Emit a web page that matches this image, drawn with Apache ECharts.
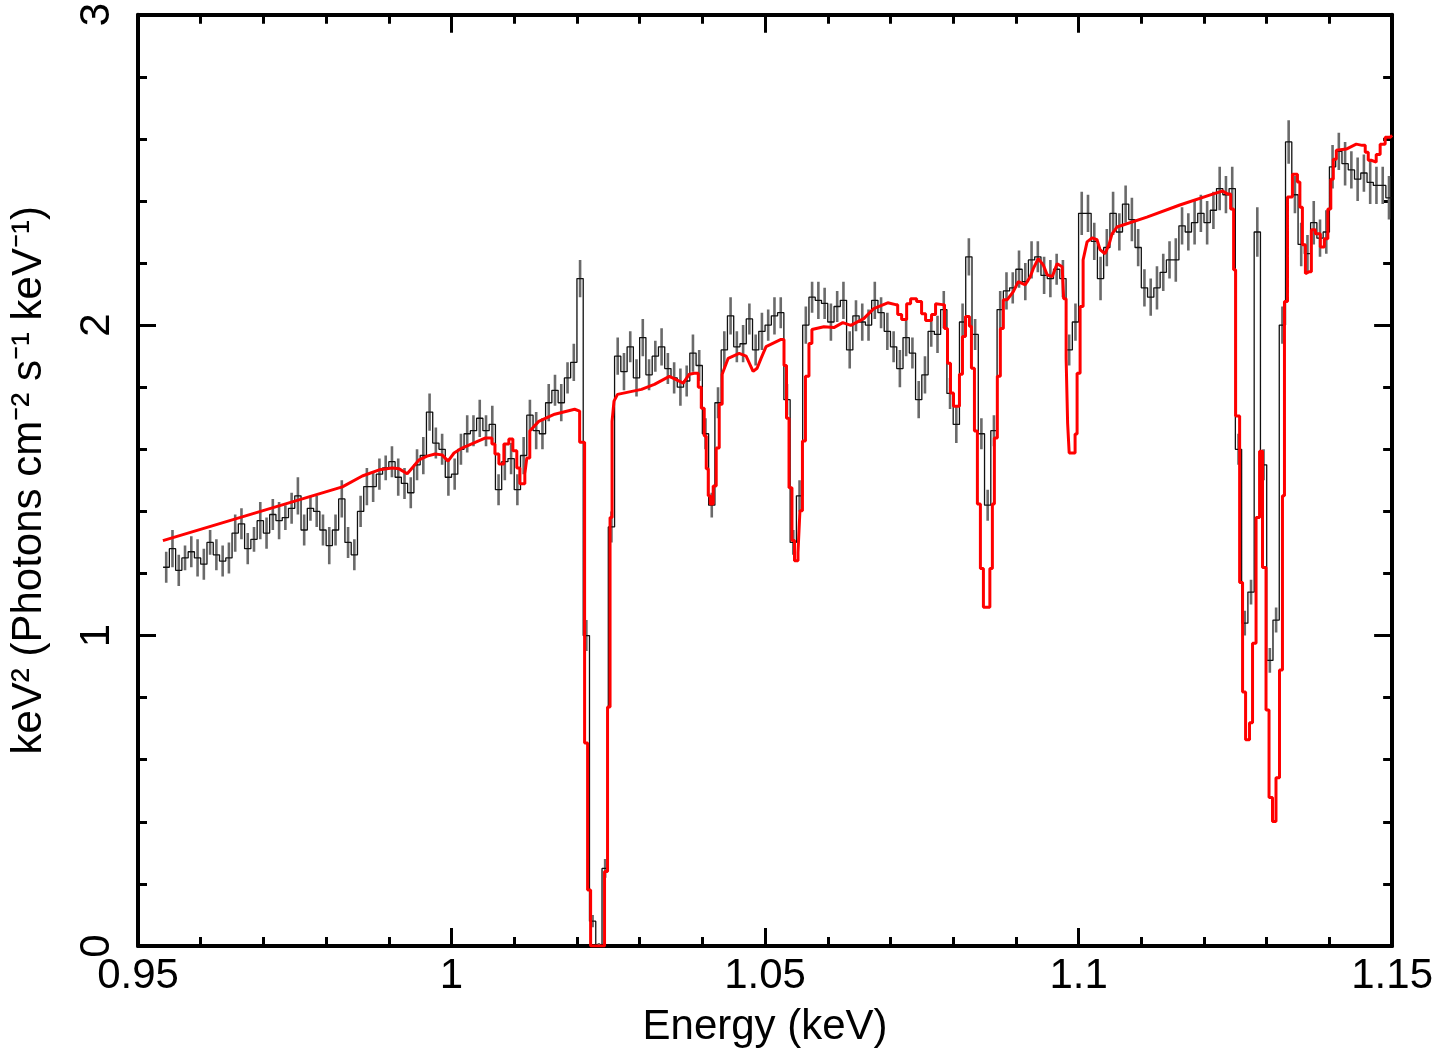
<!DOCTYPE html>
<html>
<head>
<meta charset="utf-8">
<script src="https://cdn.jsdelivr.net/npm/echarts@6/dist/echarts.min.js"></script>
<style>
    html, body { margin: 0; padding: 0; background: #fff; }
    #chart { width: 1436px; height: 1053px; }
</style>
</head>
<body>
<div id="chart"></div>
<script>
    // data bins: left edge of first bin and bin width (keV)
    var binStart = 0.954;
    var binWidth = 0.001;

    // observed spectrum, keV^2 (Photons cm^-2 s^-1 keV^-1)
    var dataY = [
        1.22,1.28,1.21,1.25,1.27,1.25,1.23,1.30,1.26,1.24,
        1.25,1.33,1.36,1.28,1.31,1.37,1.33,1.39,1.37,1.38,
        1.41,1.45,1.34,1.41,1.40,1.34,1.29,1.34,1.44,1.30,
        1.26,1.40,1.48,1.48,1.52,1.54,1.56,1.51,1.49,1.46,
        1.55,1.58,1.72,1.62,1.60,1.51,1.52,1.60,1.65,1.66,
        1.70,1.66,1.68,1.47,1.56,1.57,1.47,1.58,1.71,1.66,
        1.65,1.75,1.79,1.75,1.83,1.88,2.15,1.00,0.08,0.00,
        0.25,1.35,1.90,1.85,1.93,1.83,1.96,1.84,1.90,1.93,
        1.86,1.83,1.80,1.82,1.91,1.87,1.65,1.42,1.75,1.92,
        2.03,1.93,1.94,2.02,1.92,1.98,2.00,2.03,2.04,1.76,
        1.30,1.45,2.00,2.09,2.08,2.07,2.01,2.06,2.08,1.92,
        2.03,2.01,2.00,2.08,2.04,1.98,1.93,1.86,1.96,1.91,
        1.76,1.84,1.98,1.97,2.05,1.78,1.68,2.01,2.22,1.97,
        1.65,1.42,1.66,2.05,2.11,2.12,2.18,2.14,2.21,2.22,
        2.16,2.15,2.18,2.15,1.92,2.01,2.36,2.36,2.27,2.15,
        2.25,2.36,2.30,2.39,2.34,2.25,2.12,2.09,2.12,2.17,
        2.21,2.21,2.32,2.30,2.33,2.36,2.33,2.37,2.44,2.42,
        2.44,1.60,1.04,1.14,2.30,1.55,0.92,1.05,2.00,2.59,
        2.42,2.26,2.23,2.33,2.28,2.30,2.51,2.56,2.52,2.50,
        2.47,2.49,2.46,2.45,2.45,2.41
    ];

    // half length of the error bars
    var dataErr = [
        0.05,0.06,0.05,0.04,0.05,0.06,0.05,0.04,0.05,0.05,
        0.05,0.06,0.05,0.05,0.04,0.06,0.05,0.05,0.06,0.04,
        0.05,0.06,0.05,0.04,0.05,0.05,0.06,0.05,0.06,0.05,
        0.05,0.05,0.06,0.05,0.05,0.04,0.05,0.06,0.05,0.05,
        0.05,0.06,0.06,0.05,0.05,0.06,0.05,0.05,0.06,0.05,
        0.06,0.05,0.06,0.05,0.06,0.05,0.05,0.06,0.05,0.06,
        0.05,0.06,0.05,0.06,0.05,0.06,0.06,0.05,0.02,0.01,
        0.03,0.05,0.06,0.06,0.05,0.06,0.06,0.05,0.05,0.06,
        0.05,0.05,0.06,0.05,0.06,0.05,0.05,0.04,0.05,0.06,
        0.06,0.05,0.06,0.05,0.05,0.06,0.05,0.06,0.05,0.05,
        0.04,0.05,0.06,0.05,0.06,0.05,0.06,0.05,0.06,0.06,
        0.05,0.06,0.05,0.06,0.05,0.06,0.05,0.06,0.06,0.05,
        0.06,0.06,0.05,0.06,0.06,0.05,0.06,0.06,0.06,0.05,
        0.05,0.05,0.05,0.06,0.06,0.05,0.06,0.06,0.06,0.05,
        0.06,0.06,0.05,0.06,0.05,0.06,0.07,0.06,0.06,0.07,
        0.06,0.07,0.06,0.06,0.07,0.06,0.06,0.06,0.07,0.06,
        0.06,0.07,0.06,0.06,0.07,0.06,0.07,0.06,0.07,0.06,
        0.07,0.05,0.04,0.04,0.08,0.05,0.04,0.04,0.06,0.07,
        0.06,0.07,0.06,0.07,0.06,0.07,0.07,0.06,0.07,0.06,
        0.07,0.06,0.07,0.06,0.06,0.07
    ];

    // model curve vertices (energy keV, value); repeated energies are the model's bin steps
    var modelE = [
        0.95397,0.98259,0.98577,0.98847,0.99054,0.99165,0.99293,0.99372,0.99483,0.99610,
        0.99738,0.99849,0.99944,1.00040,1.00167,1.00533,1.00644,1.00644,1.00692,1.00692,
        1.00755,1.00755,1.00835,1.00835,1.00914,1.00914,1.00978,1.00978,1.01041,1.01041,
        1.01089,1.01089,1.01169,1.01169,1.01200,1.01200,1.01248,1.01248,1.01391,1.01645,
        1.01963,1.02043,1.02043,1.02122,1.02122,1.02170,1.02170,1.02218,1.02218,1.02440,
        1.02440,1.02488,1.02488,1.02528,1.02528,1.02560,1.02560,1.02591,1.02591,1.02647,
        1.03029,1.03235,1.03474,1.03696,1.03792,1.03871,1.03935,1.03935,1.03983,1.03983,
        1.04030,1.04030,1.04062,1.04062,1.04094,1.04094,1.04126,1.04126,1.04173,1.04173,
        1.04221,1.04221,1.04269,1.04269,1.04316,1.04316,1.04412,1.04587,1.04698,1.04809,
        1.04873,1.04936,1.05016,1.05254,1.05302,1.05302,1.05342,1.05342,1.05382,1.05382,
        1.05429,1.05429,1.05469,1.05469,1.05525,1.05525,1.05556,1.05556,1.05596,1.05596,
        1.05644,1.05644,1.05700,1.05700,1.05747,1.05747,1.05938,1.06097,1.06240,1.06367,
        1.06574,1.06733,1.06956,1.07083,1.07115,1.07115,1.07178,1.07178,1.07258,1.07258,
        1.07321,1.07321,1.07417,1.07417,1.07496,1.07496,1.07560,1.07560,1.07655,1.07655,
        1.07719,1.07719,1.07830,1.07862,1.07862,1.07909,1.07909,1.07957,1.07957,1.08005,
        1.08005,1.08100,1.08100,1.08148,1.08148,1.08196,1.08196,1.08259,1.08259,1.08291,
        1.08291,1.08339,1.08339,1.08386,1.08386,1.08434,1.08434,1.08482,1.08482,1.08585,
        1.08585,1.08625,1.08625,1.08657,1.08657,1.08704,1.08704,1.08752,1.08752,1.08800,
        1.08800,1.08863,1.08959,1.09038,1.09149,1.09229,1.09277,1.09356,1.09436,1.09499,
        1.09579,1.09658,1.09738,1.09762,1.09762,1.09801,1.09801,1.09825,1.09825,1.09850,
        1.09850,1.09944,1.09944,1.09976,1.09976,1.10024,1.10024,1.10072,1.10072,1.10135,
        1.10215,1.10294,1.10342,1.10421,1.10485,1.10533,1.10612,1.11089,1.11614,1.12138,
        1.12297,1.12377,1.12425,1.12425,1.12472,1.12472,1.12504,1.12504,1.12568,1.12568,
        1.12615,1.12615,1.12663,1.12663,1.12726,1.12726,1.12774,1.12774,1.12830,1.12830,
        1.12886,1.12886,1.12933,1.12933,1.12989,1.12989,1.13037,1.13037,1.13092,1.13092,
        1.13148,1.13148,1.13204,1.13204,1.13251,1.13251,1.13283,1.13283,1.13331,1.13331,
        1.13410,1.13410,1.13490,1.13490,1.13529,1.13529,1.13569,1.13569,1.13617,1.13617,
        1.13680,1.13712,1.13712,1.13776,1.13776,1.13855,1.13855,1.13919,1.13919,1.13975,
        1.13975,1.14022,1.14022,1.14062,1.14062,1.14110,1.14110,1.14269,1.14428,1.14523,
        1.14571,1.14571,1.14619,1.14619,1.14666,1.14666,1.14746,1.14746,1.14809,1.14809,
        1.14889,1.14889,1.14968,1.14968,1.15000
    ];
    var modelY = [
        1.306,1.479,1.514,1.534,1.540,1.537,1.521,1.540,1.566,1.578,
        1.585,1.582,1.562,1.588,1.604,1.636,1.636,1.617,1.617,1.585,
        1.585,1.553,1.553,1.617,1.617,1.633,1.633,1.595,1.595,1.540,
        1.540,1.489,1.489,1.521,1.521,1.572,1.572,1.659,1.690,1.713,
        1.729,1.723,1.623,1.623,0.654,0.654,0.180,0.180,0.000,0.000,
        0.240,0.240,0.770,0.770,1.380,1.380,1.690,1.690,1.755,1.777,
        1.793,1.809,1.835,1.813,1.842,1.845,1.845,1.800,1.800,1.732,
        1.732,1.643,1.643,1.537,1.537,1.450,1.450,1.424,1.424,1.482,
        1.482,1.604,1.604,1.745,1.745,1.842,1.893,1.909,1.900,1.851,
        1.861,1.893,1.931,1.954,1.954,1.870,1.870,1.700,1.700,1.476,
        1.476,1.306,1.306,1.241,1.241,1.267,1.267,1.402,1.402,1.627,
        1.627,1.835,1.835,1.941,1.941,1.986,1.995,1.992,2.008,1.999,
        2.021,2.053,2.072,2.066,2.066,2.034,2.034,2.018,2.018,2.069,
        2.069,2.085,2.085,2.076,2.076,2.037,2.037,2.015,2.015,2.034,
        2.034,2.069,2.066,2.066,1.989,1.989,1.877,1.877,1.781,1.781,
        1.739,1.739,1.842,1.842,1.963,1.963,2.028,2.028,1.996,1.996,
        1.861,1.861,1.659,1.659,1.424,1.424,1.216,1.216,1.091,1.091,
        1.216,1.216,1.424,1.424,1.636,1.636,1.835,1.835,1.989,1.989,
        2.082,2.082,2.108,2.140,2.130,2.156,2.182,2.214,2.194,2.162,
        2.156,2.198,2.188,2.188,2.085,2.085,1.893,1.893,1.684,1.684,
        1.588,1.588,1.649,1.649,1.845,1.845,2.060,2.060,2.210,2.268,
        2.281,2.275,2.243,2.230,2.259,2.294,2.316,2.348,2.387,2.422,
        2.432,2.422,2.422,2.374,2.374,2.178,2.178,1.707,1.707,1.171,
        1.171,0.818,0.818,0.664,0.664,0.719,0.719,0.975,0.975,1.380,
        1.380,1.594,1.594,1.219,1.219,0.760,0.760,0.478,0.478,0.401,
        0.401,0.542,0.542,0.889,0.889,1.450,1.450,2.076,2.076,2.413,
        2.413,2.486,2.486,2.461,2.461,2.380,2.380,2.259,2.259,2.166,
        2.172,2.172,2.307,2.307,2.294,2.294,2.252,2.252,2.278,2.278,
        2.374,2.374,2.470,2.470,2.534,2.534,2.563,2.567,2.583,2.579,
        2.579,2.557,2.557,2.531,2.531,2.525,2.525,2.550,2.550,2.583,
        2.583,2.605,2.605,2.611,2.611
    ];

    var xTicks = [0.95, 1.15, 0.05];   // min, max, major step
    var yTicks = [0, 3, 1];

    var font = "'Liberation Sans', Arial, Helvetica, sans-serif";

    // build series data
    var stepData = [];
    var errData = [];
    for (var i = 0; i < dataY.length; i++) {
        var e0 = binStart + i * binWidth;
        stepData.push([e0, dataY[i]]);
        errData.push([e0 + binWidth / 2, dataY[i], dataErr[i]]);
    }
    stepData.push([binStart + dataY.length * binWidth, dataY[dataY.length - 1]]);

    var modelData = [];
    for (var j = 0; j < Math.min(modelE.length, modelY.length); j++) {
        modelData.push([modelE[j], modelY[j]]);
    }

    function axisCommon(min, max, interval, pos, showLabel) {
        return {
            type: 'value',
            position: pos,
            min: min,
            max: max,
            interval: interval,
            axisLine: { show: true, onZero: false, lineStyle: { color: '#000', width: 4 } },
            axisTick: { show: true, inside: true, length: 18, lineStyle: { color: '#000', width: 3 } },
            minorTick: { show: true, splitNumber: 5, length: 9, lineStyle: { color: '#000', width: 3 } },
            splitLine: { show: false },
            minorSplitLine: { show: false },
            axisLabel: { show: showLabel }
        };
    }

    var xBottom = axisCommon(xTicks[0], xTicks[1], xTicks[2], 'bottom', true);
    xBottom.axisLabel = {
        show: true, color: '#000', fontSize: 42, fontFamily: font, margin: 9,
        showMinLabel: true, showMaxLabel: true,
        formatter: function (v) { return String(+v.toFixed(2)); }
    };
    xBottom.name = 'Energy (keV)';
    xBottom.nameLocation = 'middle';
    xBottom.nameGap = 60;
    xBottom.nameTextStyle = { color: '#000', fontSize: 42, fontFamily: font };

    var xTop = axisCommon(xTicks[0], xTicks[1], xTicks[2], 'top', false);

    var yLeft = axisCommon(yTicks[0], yTicks[1], yTicks[2], 'left', true);
    yLeft.axisLabel = {
        show: true, color: '#000', fontSize: 42, fontFamily: font, margin: 20, rotate: 90,
        showMinLabel: true, showMaxLabel: true
    };
    yLeft.name = 'keV\u00b2 (Photons cm\u207b\u00b2 s\u207b\u00b9 keV\u207b\u00b9)';
    yLeft.nameLocation = 'middle';
    yLeft.nameRotate = 90;
    yLeft.nameGap = 88;
    yLeft.nameTextStyle = { color: '#000', fontSize: 42, fontFamily: font };

    var yRight = axisCommon(yTicks[0], yTicks[1], yTicks[2], 'right', false);

    var chart = echarts.init(document.getElementById('chart'));
    chart.setOption({
        animation: false,
        backgroundColor: '#fff',
        grid: { left: 135, top: 11, right: 42, bottom: 106, containLabel: false },
        xAxis: [xBottom, xTop],
        yAxis: [yLeft, yRight],
        series: [
            {
                name: 'errors',
                type: 'custom',
                xAxisIndex: 0,
                yAxisIndex: 0,
                clip: true,
                z: 2,
                encode: { x: 0, y: 1 },
                data: errData,
                renderItem: function (params, api) {
                    var x = api.value(0), y = api.value(1), e = api.value(2);
                    var p1 = api.coord([x, y + e]);
                    var p2 = api.coord([x, y - e]);
                    return {
                        type: 'line',
                        shape: { x1: p1[0], y1: p1[1], x2: p2[0], y2: p2[1] },
                        style: { stroke: '#6a6a6a', lineWidth: 2.6 }
                    };
                }
            },
            {
                name: 'data',
                type: 'line',
                step: 'end',
                xAxisIndex: 0,
                yAxisIndex: 0,
                showSymbol: false,
                z: 3,
                lineStyle: { color: '#111', width: 1.3 },
                data: stepData
            },
            {
                name: 'model',
                type: 'line',
                xAxisIndex: 0,
                yAxisIndex: 0,
                showSymbol: false,
                z: 4,
                lineStyle: { color: '#ff0000', width: 3 },
                data: modelData
            }
        ]
    });
</script>
</body>
</html>
